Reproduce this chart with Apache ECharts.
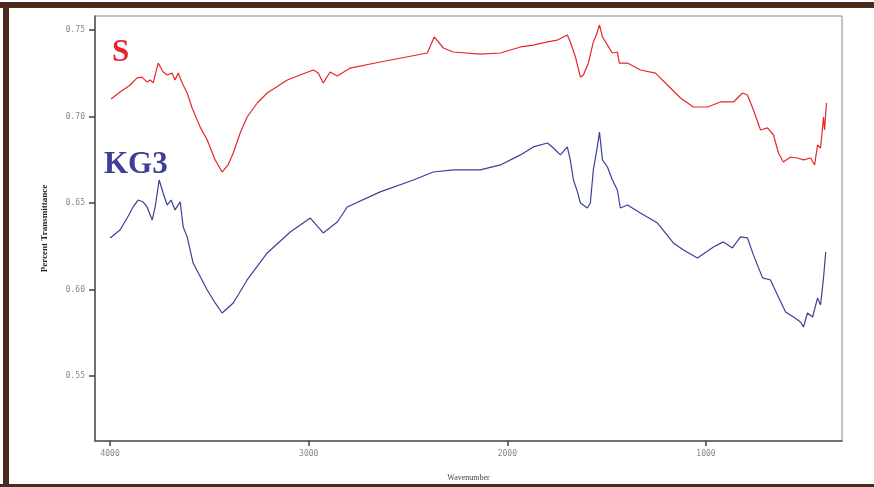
<!DOCTYPE html>
<html>
<head>
<meta charset="utf-8">
<script src="https://cdn.jsdelivr.net/npm/echarts@6/dist/echarts.min.js"></script>
<style>
    html, body { margin: 0; padding: 0; background: #fff; }
    .frame {
        position: relative;
        width: 874px;
        height: 487px;
        box-sizing: border-box;
        overflow: hidden;
        background: #fff;
    }
    .bar-top { position: absolute; left: 0; top: 2px; width: 874px; height: 6px; background: #4a2b20; }
    .bar-left { position: absolute; left: 3px; top: 2px; width: 6px; height: 485px; background: #4a2b20; }
    .bar-bottom { position: absolute; left: 0; top: 484px; width: 874px; height: 3px; background: #4a2b20; }
    #chart { position: absolute; left: 0; top: 0; width: 874px; height: 487px; }
</style>
</head>
<body>
<div class="frame">
    <div id="chart"></div>
    <div class="bar-top"></div>
    <div class="bar-left"></div>
    <div class="bar-bottom"></div>
</div>
<script>
// wavenumber (cm-1) and percent transmittance
const sWave = [3995, 3950, 3899, 3864, 3839, 3814, 3798, 3783, 3758, 3733, 3713, 3688, 3673, 3657, 3637, 3612,
    3587, 3547, 3511, 3471, 3436, 3406, 3380, 3345, 3310, 3259, 3209, 3108, 3043, 2977, 2952, 2927, 2892, 2856,
    2791, 2640, 2403, 2368, 2322, 2272, 2136, 2035, 1934, 1869, 1798, 1748, 1698, 1683, 1657, 1632, 1617, 1592,
    1567, 1552, 1536, 1521, 1496, 1471, 1446, 1436, 1395, 1330, 1254, 1194, 1128, 1063, 992, 927, 861, 816, 791,
    761, 725, 690, 660, 635, 610, 574, 539, 509, 473, 453, 438, 423, 408, 403, 393];
const sTrans = [0.7101, 0.7142, 0.7182, 0.7223, 0.7228, 0.7199, 0.7211, 0.7194, 0.7309, 0.7257, 0.7240, 0.7251,
    0.7211, 0.7251, 0.7194, 0.7136, 0.7049, 0.6940, 0.6864, 0.6749, 0.6679, 0.6720, 0.6789, 0.6905, 0.6997,
    0.7078, 0.7136, 0.7211, 0.7240, 0.7269, 0.7251, 0.7194, 0.7257, 0.7234, 0.7280, 0.7315, 0.7367, 0.7460,
    0.7396, 0.7373, 0.7361, 0.7367, 0.7402, 0.7413, 0.7431, 0.7442, 0.7471, 0.7431, 0.7344, 0.7228, 0.7240,
    0.7309, 0.7431, 0.7471, 0.7529, 0.7460, 0.7413, 0.7367, 0.7373, 0.7309, 0.7309, 0.7269, 0.7251, 0.7182,
    0.7107, 0.7055, 0.7055, 0.7084, 0.7084, 0.7136, 0.7124, 0.7038, 0.6922, 0.6934, 0.6893, 0.6789, 0.6737,
    0.6766, 0.6760, 0.6749, 0.6760, 0.6720, 0.6835, 0.6818, 0.6997, 0.6922, 0.7078];

const kgWave = [4000, 3950, 3914, 3884, 3859, 3834, 3814, 3788, 3773, 3753, 3733, 3713, 3693, 3673, 3647, 3632,
    3612, 3582, 3511, 3471, 3436, 3380, 3310, 3209, 3093, 2992, 2927, 2856, 2806, 2640, 2473, 2373, 2272, 2136,
    2035, 1934, 1869, 1798, 1768, 1733, 1698, 1683, 1667, 1647, 1632, 1597, 1582, 1567, 1547, 1536, 1521, 1496,
    1471, 1446, 1431, 1395, 1330, 1244, 1164, 1113, 1043, 962, 912, 867, 826, 791, 761, 715, 675, 640, 599, 559,
    524, 509, 489, 463, 438, 423, 408, 397];
const kgTrans = [0.6298, 0.6344, 0.6413, 0.6477, 0.6517, 0.6506, 0.6477, 0.6402, 0.6477, 0.6633, 0.6558, 0.6488,
    0.6517, 0.6460, 0.6506, 0.6361, 0.6304, 0.6153, 0.5997, 0.5922, 0.5864, 0.5922, 0.6055, 0.6211, 0.6332,
    0.6413, 0.6327, 0.6390, 0.6477, 0.6564, 0.6633, 0.6679, 0.6691, 0.6691, 0.6720, 0.6778, 0.6824, 0.6847,
    0.6818, 0.6778, 0.6824, 0.6749, 0.6633, 0.6564, 0.6500, 0.6471, 0.6500, 0.6691, 0.6824, 0.6910, 0.6749,
    0.6708, 0.6633, 0.6575, 0.6471, 0.6488, 0.6442, 0.6384, 0.6269, 0.6228, 0.6182, 0.6246, 0.6275, 0.6240,
    0.6304, 0.6298, 0.6200, 0.6067, 0.6055, 0.5968, 0.5870, 0.5841, 0.5812, 0.5783, 0.5864, 0.5841, 0.5951,
    0.5910, 0.6067, 0.6217];

const xTicks = [1000, 2000, 3000, 4000];
const yTicks = [0.55, 0.60, 0.65, 0.70, 0.75];

const pairs = (xs, ys) => xs.map((x, i) => [x, ys[i]]);

const chart = echarts.init(document.getElementById('chart'));

const tickLabel = {
    color: '#888',
    fontSize: 8,
    fontFamily: 'DejaVu Sans Mono'
};

chart.setOption({
    animation: false,
    backgroundColor: 'transparent',
    grid: {
        left: 95,
        top: 16,
        right: 32,
        bottom: 46,
        show: true,
        borderColor: '#888',
        borderWidth: 1
    },
    xAxis: {
        type: 'value',
        inverse: true,
        min: 315,
        max: 4076,
        name: 'Wavenumber',
        nameLocation: 'middle',
        nameGap: 33,
        nameTextStyle: { color: '#444', fontSize: 8, fontFamily: 'Liberation Serif' },
        splitLine: { show: false },
        axisLine: { lineStyle: { color: '#555', width: 1.5 } },
        axisTick: { customValues: xTicks, length: 5, lineStyle: { color: '#444', width: 1.5 } },
        axisLabel: Object.assign({
            customValues: xTicks,
            margin: 9,
            formatter: v => String(v)
        }, tickLabel)
    },
    yAxis: {
        type: 'value',
        min: 0.5124,
        max: 0.7581,
        name: 'Percent Transmittance',
        nameLocation: 'middle',
        nameGap: 46,
        nameTextStyle: { color: '#222', fontSize: 9, fontWeight: 'bold', fontFamily: 'Liberation Serif' },
        splitLine: { show: false },
        axisLine: { show: true, lineStyle: { color: '#555', width: 1.5 } },
        axisTick: { customValues: yTicks, length: 6, lineStyle: { color: '#444', width: 1.5 } },
        axisLabel: Object.assign({
            customValues: yTicks,
            margin: 10,
            formatter: v => v.toFixed(2)
        }, tickLabel)
    },
    graphic: [
        {
            type: 'text',
            left: 112,
            top: 37,
            style: { text: 'S', fill: '#e8232b', font: 'bold 31px "Liberation Serif"' }
        },
        {
            type: 'text',
            left: 104,
            top: 149,
            style: { text: 'KG3', fill: '#3d3f98', font: 'bold 31px "Liberation Serif"' }
        }
    ],
    series: [
        {
            name: 'S',
            type: 'line',
            data: pairs(sWave, sTrans),
            showSymbol: false,
            lineStyle: { color: '#e8262a', width: 1.2 }
        },
        {
            name: 'KG3',
            type: 'line',
            data: pairs(kgWave, kgTrans),
            showSymbol: false,
            lineStyle: { color: '#3c3f97', width: 1.2 }
        }
    ]
});
</script>
</body>
</html>
